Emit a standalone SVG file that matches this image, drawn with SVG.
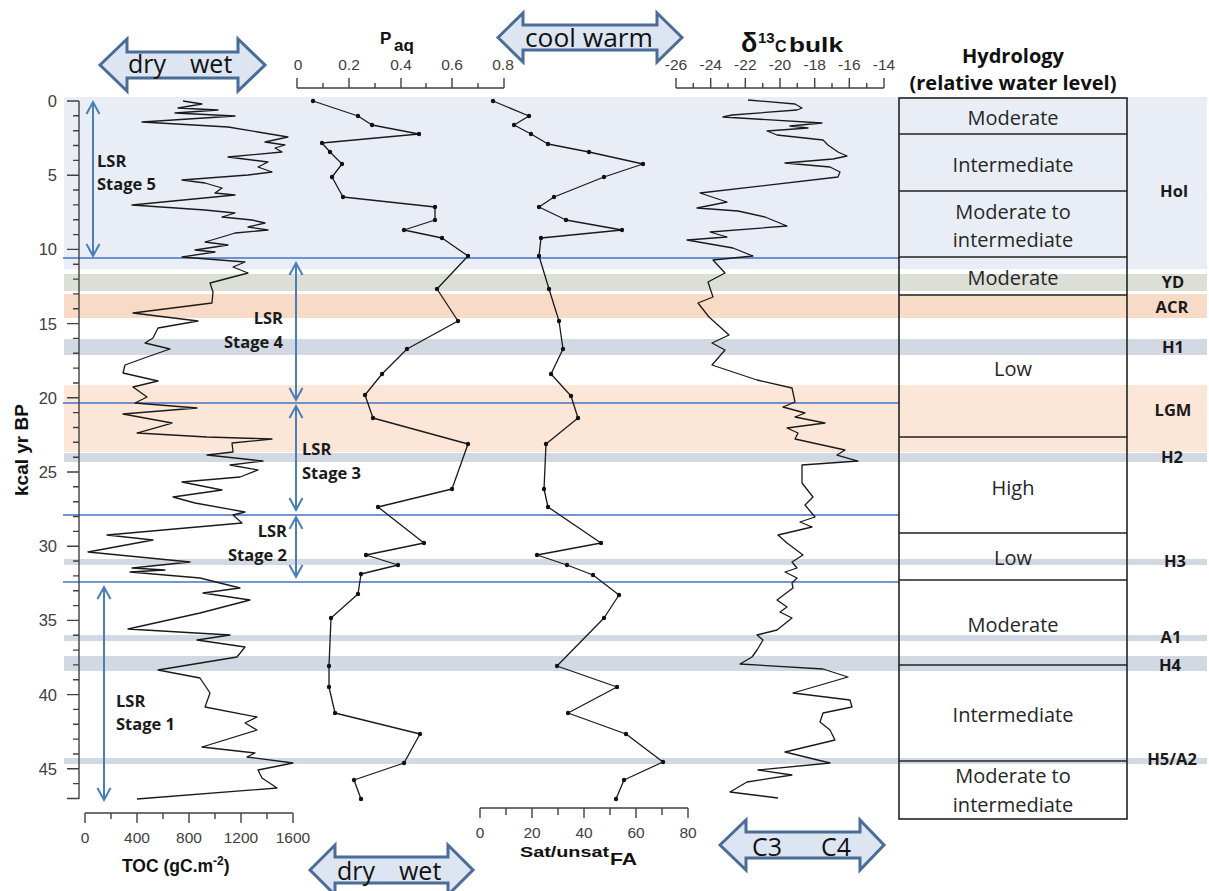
<svg xmlns="http://www.w3.org/2000/svg" width="1209" height="891" viewBox="0 0 1209 891">
<defs>
<style>
.ax{stroke:#404040;stroke-width:1.4;fill:none}
.tl{font-family:"Liberation Sans",Arial,sans-serif;font-size:15.5px;fill:#404040;text-anchor:middle}
.yl{font-family:"Liberation Sans",Arial,sans-serif;font-size:16.5px;fill:#404040;text-anchor:end}
.bt{font-family:"Liberation Sans",Arial,sans-serif;font-weight:bold;fill:#111}
.cal{font-family:"Open Sans","Liberation Sans",sans-serif;fill:#1a1a1a}
.calb{font-family:"Open Sans","Liberation Sans",sans-serif;font-weight:bold;fill:#1a1a1a;font-size:16.5px}
.hyd{font-family:"Open Sans","Liberation Sans",sans-serif;font-size:20px;fill:#262626;text-anchor:middle}
.lab{font-family:"Open Sans","Liberation Sans",sans-serif;font-weight:bold;font-size:16.5px;fill:#1a1a1a;text-anchor:middle}
.blk{fill:#dce5f1;stroke:#4a6d97;stroke-width:3;stroke-linejoin:miter}
.blt{font-family:"Open Sans","Liberation Sans",sans-serif;font-size:25px;fill:#111}
.curve{fill:none;stroke:#1a1a1a;stroke-width:1.3;stroke-linejoin:round}
.dot{fill:#111}
.bl{stroke:#4472c4;stroke-width:1.4;fill:none}
.la{stroke:#4a7ebb;stroke-width:2;fill:none}
.hbox{fill:none;stroke:#222;stroke-width:1.6}
</style>
</defs>
<rect width="1209" height="891" fill="#fff"/>

<g id="bands">
<rect x="64" y="97" width="1143" height="172" fill="#e9eef6"/>
<rect x="64" y="274" width="1143" height="17" fill="#dcdfd6"/>
<rect x="64" y="294" width="1143" height="24" fill="#f8dbc6"/>
<rect x="64" y="339" width="1143" height="16" fill="#d3d9e3"/>
<rect x="64" y="385" width="1143" height="67" fill="#fbe6d7"/>
<rect x="64" y="453" width="1143" height="9" fill="#d3d9e3"/>
<rect x="64" y="559" width="1143" height="6" fill="#d3d9e3"/>
<rect x="64" y="635" width="1143" height="6" fill="#d3d9e3"/>
<rect x="64" y="656" width="1143" height="15" fill="#d3d9e3"/>
<rect x="64" y="758" width="1143" height="6" fill="#d3d9e3"/>
</g>

<g id="stage-lines">
<line class="bl" x1="63" y1="258" x2="899" y2="258"/>
<line class="bl" x1="63" y1="403" x2="899" y2="403"/>
<line class="bl" x1="63" y1="515" x2="899" y2="515"/>
<line class="bl" x1="63" y1="582" x2="899" y2="582"/>
</g>

<g id="y-axis">
<line class="ax" x1="79" y1="101" x2="79" y2="799"/>
<path class="ax" d="M67,101H79M73,115.8H79M73,130.7H79M73,145.5H79M73,160.4H79M67,175.2H79M73,190H79M73,204.9H79M73,219.7H79M73,234.6H79M67,249.4H79M73,264.2H79M73,279.1H79M73,293.9H79M73,308.8H79M67,323.6H79M73,338.4H79M73,353.3H79M73,368.1H79M73,383H79M67,397.8H79M73,412.6H79M73,427.5H79M73,442.3H79M73,457.2H79M67,472H79M73,486.8H79M73,501.7H79M73,516.5H79M73,531.4H79M67,546.2H79M73,561H79M73,575.9H79M73,590.7H79M73,605.6H79M67,620.4H79M73,635.2H79M73,650.1H79M73,664.9H79M73,679.8H79M67,694.6H79M73,709.4H79M73,724.3H79M73,739.1H79M73,754H79M67,768.8H79M73,783.6H79M67,798.5H79"/>
<text class="yl" x="57" y="107">0</text>
<text class="yl" x="57" y="181">5</text>
<text class="yl" x="57" y="255">10</text>
<text class="yl" x="57" y="330">15</text>
<text class="yl" x="57" y="404">20</text>
<text class="yl" x="57" y="478">25</text>
<text class="yl" x="57" y="552">30</text>
<text class="yl" x="57" y="626">35</text>
<text class="yl" x="57" y="701">40</text>
<text class="yl" x="57" y="775">45</text>
<text class="bt" font-size="19" text-anchor="middle" transform="translate(28,450) rotate(-90)">kcal yr BP</text>
</g>

<g id="toc-axis">
<line class="ax" x1="85" y1="813" x2="293" y2="813"/>
<path class="ax" d="M85,813V823M111,813V819M137,813V823M163,813V819M189,813V823M215,813V819M241,813V823M267,813V819M293,813V823"/>
<text class="tl" x="85" y="843">0</text>
<text class="tl" x="137" y="843">400</text>
<text class="tl" x="189" y="843">800</text>
<text class="tl" x="241" y="843">1200</text>
<text class="tl" x="293" y="843">1600</text>
<text class="bt" font-size="17.5" x="122" y="872">TOC (gC.m<tspan font-size="12" dy="-7">-2</tspan><tspan dy="7">)</tspan></text>
</g>

<g id="paq-axis">
<line class="ax" x1="297" y1="88" x2="504" y2="88"/>
<path class="ax" d="M297,88V78M323,88V83M349,88V78M375,88V83M401,88V78M426,88V83M452,88V78M478,88V83M504,88V78"/>
<text class="tl" font-size="17" x="298" y="70">0</text>
<text class="tl" font-size="17" x="349" y="70">0.2</text>
<text class="tl" font-size="17" x="401" y="70">0.4</text>
<text class="tl" font-size="17" x="452" y="70">0.6</text>
<text class="tl" font-size="17" x="503" y="70">0.8</text>
<text class="bt" font-size="17" x="380" y="44">P</text>
<text class="bt" font-size="17" x="394" y="51">aq</text>
</g>

<g id="d13c-axis">
<line class="ax" x1="676" y1="88" x2="884" y2="88"/>
<path class="ax" d="M676,88V78M693.3,88V83M710.7,88V78M728,88V83M745.3,88V78M762.7,88V83M780,88V78M797.3,88V83M814.7,88V78M832,88V83M849.3,88V78M866.7,88V83M884,88V78"/>
<text class="tl" font-size="16" x="676" y="70">-26</text>
<text class="tl" font-size="16" x="710.7" y="70">-24</text>
<text class="tl" font-size="16" x="745.3" y="70">-22</text>
<text class="tl" font-size="16" x="780" y="70">-20</text>
<text class="tl" font-size="16" x="814.7" y="70">-18</text>
<text class="tl" font-size="16" x="849.3" y="70">-16</text>
<text class="tl" font-size="16" x="884" y="70">-14</text>
<text class="bt" font-size="27" x="741" y="52">δ</text>
<text class="bt" font-size="15" x="758" y="43">13</text>
<text class="bt" font-size="16" x="775" y="52">C</text>
<text class="bt" font-size="21" x="789" y="52" textLength="54" lengthAdjust="spacingAndGlyphs">bulk</text>
</g>

<g id="sat-axis">
<line class="ax" x1="480" y1="808" x2="688" y2="808"/>
<path class="ax" d="M480,808V818M506,808V815M532,808V818M558,808V815M584,808V818M610,808V815M636,808V818M662,808V815M688,808V818"/>
<text class="tl" x="480" y="838">0</text>
<text class="tl" x="532" y="838">20</text>
<text class="tl" x="584" y="838">40</text>
<text class="tl" x="636" y="838">60</text>
<text class="tl" x="688" y="838">80</text>
<text class="bt" font-size="15.5" x="520" y="857" textLength="89" lengthAdjust="spacingAndGlyphs">Sat/unsat</text>
<text class="bt" font-size="17" x="610" y="865" textLength="27" lengthAdjust="spacingAndGlyphs">FA</text>
</g>

<g id="curves">
<polyline id="toc-curve" class="curve" points="183,101 202,104 178,108 218,110 175,113 235,116 142,122 228,127 258,132 288,137 265,142 285,145 275,148 282,152 228,157 268,162 258,167 272,172 248,175 182,180 205,183 222,188 215,193 235,195 132,205 205,210 235,213 222,217 252,220 265,223 248,227 268,230 235,233 222,237 205,242 228,245 195,250 215,252 182,257 245,262 233,267 248,273 210,283 213,292 212,303 133,313 198,321 158,328 153,338 145,343 170,349 147,357 125,365 123,373 158,381 133,387 147,397 135,403 197,408 123,414 172,423 137,433 207,437 272,439 232,443 233,452 207,455 263,461 230,465 258,470 240,477 182,482 222,490 173,497 195,503 245,512 233,515 242,523 107,535 153,540 88,552 190,562 132,568 165,570 130,572 200,578 240,588 203,593 250,600 200,613 128,629 230,635 197,640 245,647 237,657 158,670 200,678 210,693 205,707 257,717 245,723 257,730 202,747 255,753 247,757 293,763 258,770 262,778 277,788 137,799"/>
<polyline id="paq-curve" class="curve" stroke-width="1.2" points="313,101 358,116 372,125 419,134 322,143 330,152 342,164 332,177 343,197 435,207 435,220 404,230 442,238 468,256 437,289 458,321 407,349 382,374 365,395 373,418 468,444 452,489 378,507 424,543 366,555 398,565 361,574 358,594 331,618 329,666 329,687 335,713 420,734 404,763 354,780 361,799"/>
<polyline id="sat-curve" class="curve" stroke-width="1.2" points="493,101 529,116 514,125 531,134 548,144 589,152 643,164 604,177 554,197 539,207 566,220 622,230 541,238 539,256 549,289 559,321 563,349 551,374 571,396 578,418 546,444 544,489 548,507 601,543 537,555 567,565 593,575 619,595 604,618 557,666 617,687 568,713 626,734 663,762 624,780 616,799"/>
<polyline id="d13c-curve" class="curve" points="748,100 795,104 802,108 797,110 732,115 723,117 822,123 790,126 808,128 767,131 777,135 823,140 828,145 838,152 847,156 833,159 785,163 830,167 840,172 838,177 700,193 727,202 697,208 738,211 765,217 787,226 710,232 727,237 687,240 733,248 753,256 713,260 725,273 708,282 713,297 698,303 709,317 729,335 712,343 725,350 712,365 757,380 792,388 795,402 783,407 805,413 795,417 825,423 787,428 798,433 795,439 845,450 837,455 858,461 802,465 802,483 813,497 805,505 815,517 800,522 812,527 778,535 787,543 803,555 792,562 797,568 785,572 797,578 792,583 793,588 777,600 787,607 780,612 792,618 777,630 757,635 763,640 757,650 752,657 740,664 823,669 848,677 793,693 850,700 852,707 823,713 820,722 830,730 835,740 785,752 830,763 758,770 792,775 747,782 730,792 778,798"/>
<g id="paq-dots" class="dot">
<circle cx="313" cy="101" r="2.2"/><circle cx="358" cy="116" r="2.2"/><circle cx="372" cy="125" r="2.2"/><circle cx="419" cy="134" r="2.2"/><circle cx="322" cy="143" r="2.2"/><circle cx="330" cy="152" r="2.2"/><circle cx="342" cy="164" r="2.2"/><circle cx="332" cy="177" r="2.2"/><circle cx="343" cy="197" r="2.2"/><circle cx="435" cy="207" r="2.2"/><circle cx="435" cy="220" r="2.2"/><circle cx="404" cy="230" r="2.2"/><circle cx="442" cy="238" r="2.2"/><circle cx="468" cy="256" r="2.2"/><circle cx="437" cy="289" r="2.2"/><circle cx="458" cy="321" r="2.2"/><circle cx="407" cy="349" r="2.2"/><circle cx="382" cy="374" r="2.2"/><circle cx="365" cy="395" r="2.2"/><circle cx="373" cy="418" r="2.2"/><circle cx="468" cy="444" r="2.2"/><circle cx="452" cy="489" r="2.2"/><circle cx="378" cy="507" r="2.2"/><circle cx="424" cy="543" r="2.2"/><circle cx="366" cy="555" r="2.2"/><circle cx="398" cy="565" r="2.2"/><circle cx="361" cy="574" r="2.2"/><circle cx="358" cy="594" r="2.2"/><circle cx="331" cy="618" r="2.2"/><circle cx="329" cy="666" r="2.2"/><circle cx="329" cy="687" r="2.2"/><circle cx="335" cy="713" r="2.2"/><circle cx="420" cy="734" r="2.2"/><circle cx="404" cy="763" r="2.2"/><circle cx="354" cy="780" r="2.2"/><circle cx="361" cy="799" r="2.2"/>
</g>
<g id="sat-dots" class="dot">
<circle cx="493" cy="101" r="2.2"/><circle cx="529" cy="116" r="2.2"/><circle cx="514" cy="125" r="2.2"/><circle cx="531" cy="134" r="2.2"/><circle cx="548" cy="144" r="2.2"/><circle cx="589" cy="152" r="2.2"/><circle cx="643" cy="164" r="2.2"/><circle cx="604" cy="177" r="2.2"/><circle cx="554" cy="197" r="2.2"/><circle cx="539" cy="207" r="2.2"/><circle cx="566" cy="220" r="2.2"/><circle cx="622" cy="230" r="2.2"/><circle cx="541" cy="238" r="2.2"/><circle cx="539" cy="256" r="2.2"/><circle cx="549" cy="289" r="2.2"/><circle cx="559" cy="321" r="2.2"/><circle cx="563" cy="349" r="2.2"/><circle cx="551" cy="374" r="2.2"/><circle cx="571" cy="396" r="2.2"/><circle cx="578" cy="418" r="2.2"/><circle cx="546" cy="444" r="2.2"/><circle cx="544" cy="489" r="2.2"/><circle cx="548" cy="507" r="2.2"/><circle cx="601" cy="543" r="2.2"/><circle cx="537" cy="555" r="2.2"/><circle cx="567" cy="565" r="2.2"/><circle cx="593" cy="575" r="2.2"/><circle cx="619" cy="595" r="2.2"/><circle cx="604" cy="618" r="2.2"/><circle cx="557" cy="666" r="2.2"/><circle cx="617" cy="687" r="2.2"/><circle cx="568" cy="713" r="2.2"/><circle cx="626" cy="734" r="2.2"/><circle cx="663" cy="762" r="2.2"/><circle cx="624" cy="780" r="2.2"/><circle cx="616" cy="799" r="2.2"/>
</g>
</g>

<g id="connectors">
<path class="la" d="M93,102V256M86.5,114L93,102L99.5,114M86.5,244L93,256L99.5,244"/>
<path class="la" d="M296,263V400M289.5,275L296,263L302.5,275M289.5,388L296,400L302.5,388"/>
<path class="la" d="M296,406V510M289.5,418L296,406L302.5,418M289.5,498L296,510L302.5,498"/>
<path class="la" d="M296,517V577M289.5,529L296,517L302.5,529M289.5,565L296,577L302.5,565"/>
<path class="la" d="M104,587V800M97.5,599L104,587L110.5,599M97.5,788L104,800L110.5,788"/>
</g>

<g id="stage-labels">
<g id="stage5"><text class="calb" x="97" y="167">LSR</text><text class="calb" x="97" y="190">Stage 5</text></g>
<g id="stage4"><text class="calb" text-anchor="end" x="283" y="324">LSR</text><text class="calb" text-anchor="end" x="283" y="348">Stage 4</text></g>
<g id="stage3"><text class="calb" x="302" y="455">LSR</text><text class="calb" x="302" y="479">Stage 3</text></g>
<g id="stage2"><text class="calb" text-anchor="end" x="287" y="537">LSR</text><text class="calb" text-anchor="end" x="287" y="561">Stage 2</text></g>
<g id="stage1"><text class="calb" x="116" y="707">LSR</text><text class="calb" x="116" y="730">Stage 1</text></g>
</g>

<g id="arrow-drywet-top">
<path class="blk" d="M100,65L127,39V52H238V39L265,65L238,91V78H127V91Z"/>
<text class="blt" x="128" y="73">dry</text><text class="blt" x="190" y="73">wet</text>
</g>
<g id="arrow-coolwarm">
<path class="blk" d="M498,37.5L523,13V25H657V13L682,37.5L657,62V50H523V62Z"/>
<text class="blt" x="525" y="47" textLength="128" lengthAdjust="spacingAndGlyphs">cool warm</text>
</g>
<g id="arrow-drywet-bottom">
<path class="blk" d="M310,870L335,845V857H448V845L473,870L448,895V883H335V895Z"/>
<text class="blt" x="337" y="880">dry</text><text class="blt" x="399" y="880">wet</text>
</g>
<g id="arrow-c3c4">
<path class="blk" d="M720,845L746,820V832H860V820L884,845L860,870V858H746V870Z"/>
<text class="blt" x="752" y="856">C3</text><text class="blt" x="821" y="856">C4</text>
</g>

<g id="hydrology">
<text class="bt" font-family="Open Sans" font-size="20" text-anchor="middle" x="1013" y="63" style="font-family:'Open Sans','Liberation Sans',sans-serif">Hydrology</text>
<text class="bt" font-size="20" text-anchor="middle" x="1013" y="90" style="font-family:'Open Sans','Liberation Sans',sans-serif">(relative water level)</text>
<rect class="hbox" x="899" y="98" width="228" height="721"/>
<path class="hbox" d="M899,134H1127M899,191H1127M899,257H1127M899,295H1127M899,437H1127M899,533H1127M899,580H1127M899,665H1127M899,761H1127"/>
<text class="hyd" x="1013" y="125">Moderate</text>
<text class="hyd" x="1013" y="172">Intermediate</text>
<text class="hyd" x="1013" y="219">Moderate to</text>
<text class="hyd" x="1013" y="247">intermediate</text>
<text class="hyd" x="1013" y="285">Moderate</text>
<text class="hyd" x="1013" y="376">Low</text>
<text class="hyd" x="1013" y="495">High</text>
<text class="hyd" x="1013" y="565">Low</text>
<text class="hyd" x="1013" y="632">Moderate</text>
<text class="hyd" x="1013" y="722">Intermediate</text>
<text class="hyd" x="1013" y="783">Moderate to</text>
<text class="hyd" x="1013" y="812">intermediate</text>
</g>

<g id="event-labels">
<text class="lab" x="1174" y="197">Hol</text>
<text class="lab" x="1173" y="288">YD</text>
<text class="lab" x="1172" y="313">ACR</text>
<text class="lab" x="1173" y="353">H1</text>
<text class="lab" x="1173" y="416">LGM</text>
<text class="lab" x="1172" y="463">H2</text>
<text class="lab" x="1175" y="567">H3</text>
<text class="lab" x="1171" y="643">A1</text>
<text class="lab" x="1170" y="671">H4</text>
<text class="lab" x="1172" y="765">H5/A2</text>
</g>
</svg>
